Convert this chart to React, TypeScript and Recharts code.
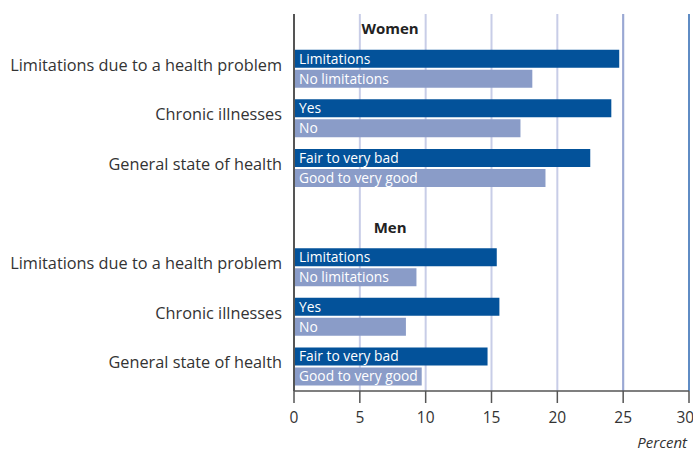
import React from "react";
import {
  ComposedChart,
  Bar,
  XAxis,
  YAxis,
  CartesianGrid,
  ReferenceLine,
  ReferenceDot,
  LabelList,
} from "recharts";

const topics = [
  "Limitations due to a health problem",
  "Chronic illnesses",
  "General state of health",
];
const darkLabels = ["Limitations", "Yes", "Fair to very bad"];
const lightLabels = ["No limitations", "No", "Good to very good"];

const womenDark = [24.7, 24.1, 22.5];
const womenLight = [18.1, 17.2, 19.1];
const menDark = [15.4, 15.6, 14.7];
const menLight = [9.3, 8.5, 9.7];

const womenRows = [1, 2, 3];
const menRows = [5, 6, 7];
const groupTitles = ["Women", "Men"];
const titleRows = [0.2, 4.2];

const xTicks = [0, 5, 10, 15, 20, 25, 30];

const FONT = "'Open Sans', sans-serif";
const DARK = "#03529a";
const LIGHT = "#8a9cc8";

const data = [
  ...womenRows.map((pos, i) => ({
    pos,
    topic: topics[i],
    dark: womenDark[i],
    light: womenLight[i],
    darkLabel: darkLabels[i],
    lightLabel: lightLabels[i],
  })),
  ...menRows.map((pos, i) => ({
    pos,
    topic: topics[i],
    dark: menDark[i],
    light: menLight[i],
    darkLabel: darkLabels[i],
    lightLabel: lightLabels[i],
  })),
];

const topicAt = (v: number) => data.find((d) => d.pos === v)?.topic ?? "";

const TopicTick = (props: any) => {
  const { x, y, payload } = props;
  return (
    <text
      x={x - 4}
      y={y - 4}
      textAnchor="end"
      dominantBaseline="central"
      fontFamily={FONT}
      fontSize={16.3}
      fill="#333"
    >
      {topicAt(payload.value)}
    </text>
  );
};

const App = () => {
  return (
    <div style={{ position: "absolute", left: 0, top: 0, background: "#fff" }}>
      <ComposedChart
        width={693}
        height={450}
        layout="vertical"
        data={data}
        margin={{ top: 14, right: 4, bottom: 0, left: 0 }}
        barGap={2}
      >
        <CartesianGrid
          horizontal={false}
          stroke="#c8cde7"
          strokeWidth={2}
        />
        <ReferenceLine x={25} stroke="#9aa8d3" strokeWidth={2} />
        <ReferenceLine x={30} stroke="#5f8cc4" strokeWidth={2} />
        <XAxis
          type="number"
          domain={[0, 30]}
          ticks={xTicks}
          height={59}
          tickSize={12}
          tickMargin={9}
          axisLine={{ stroke: "#555", strokeWidth: 1.5 }}
          tickLine={{ stroke: "#555", strokeWidth: 1.5 }}
          tick={{ fontFamily: FONT, fontSize: 15.5, fill: "#333" }}
          label={{
            value: "Percent",
            position: "insideBottomRight",
            offset: 2,
            fontFamily: FONT,
            fontSize: 15,
            fontStyle: "italic",
            fill: "#333",
          }}
        />
        <YAxis
          type="number"
          dataKey="pos"
          domain={[-0.1, 7.5]}
          ticks={[...womenRows, ...menRows]}
          width={294}
          axisLine={{ stroke: "#555", strokeWidth: 2 }}
          tickLine={false}
          tick={<TopicTick />}
        />
        {groupTitles.map((t, i) => (
          <ReferenceDot
            key={t}
            x={7.3}
            y={titleRows[i]}
            r={0}
            fill="none"
            stroke="none"
            ifOverflow="visible"
            label={{
              value: t,
              position: "center",
              fontFamily: FONT,
              fontSize: 15,
              fontWeight: 700,
              fill: "#222",
            }}
          />
        ))}
        <Bar dataKey="dark" fill={DARK} barSize={18} isAnimationActive={false}>
          <LabelList
            dataKey="darkLabel"
            position="insideLeft"
            offset={5}
            fill="#fff"
            fontFamily={FONT}
            fontSize={13.8}
          />
        </Bar>
        <Bar dataKey="light" fill={LIGHT} barSize={18} isAnimationActive={false}>
          <LabelList
            dataKey="lightLabel"
            position="insideLeft"
            offset={5}
            fill="#fff"
            fontFamily={FONT}
            fontSize={13.8}
          />
        </Bar>
      </ComposedChart>
    </div>
  );
};

export default App;
